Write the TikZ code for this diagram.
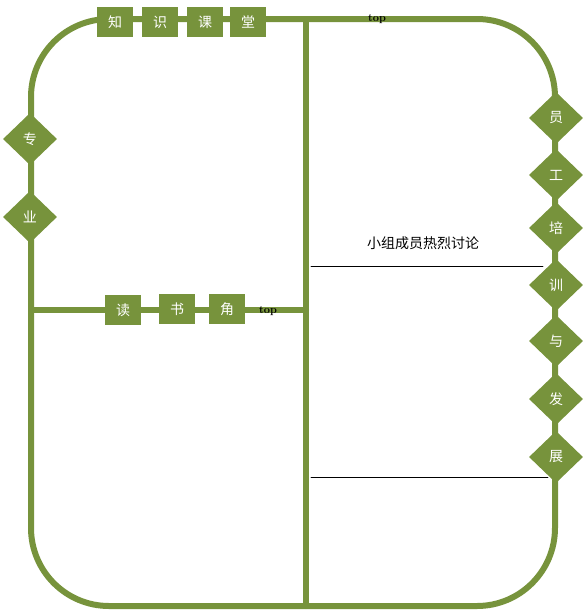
\documentclass[tikz,border=0pt]{standalone}
\usepackage{fontspec}
\newfontfamily\cjk{Noto Sans CJK SC}
\usetikzlibrary{shapes.geometric}
\definecolor{olive}{RGB}{119,147,60}
\tikzset{
	frame/.style={draw=olive, line width=6pt},
	tag/.style={fill=olive, text=white, minimum width=36pt, minimum height=30pt, inner sep=0pt, font=\cjk\fontsize{14}{14}\selectfont},
	rhomb/.style={diamond, aspect=1, fill=olive, text=white, minimum width=54pt, minimum height=52pt, inner sep=0pt, font=\cjk\fontsize{14}{14}\selectfont},
	toplbl/.style={font=\bfseries\fontsize{11}{11}\selectfont, inner sep=0pt},
}

\begin{document}
\begin{tikzpicture}[x=1pt, y=-1pt, line cap=round, line join=round]
	\useasboundingbox (0,0) rectangle (588,611);
	\coordinate (midtop) at (306,19);
	\coordinate (midbot) at (306,606);
	\coordinate (leftmid) at (31,310);
	\coordinate (midmid) at (306,310);
	\draw[frame, rounded corners=78pt] (31,19) rectangle (555,606);
	\draw[frame] (midtop) -- (midbot);
	\draw[frame] (leftmid) -- (midmid);
	% top boxes
	\node[tag] (zhi) at (115,22) {知};
	\node[tag] (shi) at (160,22) {识};
	\node[tag] (ke) at (205,22) {课};
	\node[tag] (tang) at (248,22) {堂};
	\node[toplbl] (top1) at (377,19) {top};
	% left diamonds
	\node[rhomb] (zhuan) at (30,139) {专};
	\node[rhomb] (ye) at (30,217) {业};
	% middle boxes
	\node[tag] (du) at (123,310) {读};
	\node[tag] (shu) at (177,309) {书};
	\node[tag] (jiao) at (227,309) {角};
	\node[toplbl] (top2) at (268,311) {top};
	% right diamonds
	\node[rhomb] (yuan) at (556,118) {员};
	\node[rhomb] (gong) at (556,175) {工};
	\node[rhomb] (pei) at (556,228) {培};
	\node[rhomb] (xun) at (556,285) {训};
	\node[rhomb] (yu) at (556,341) {与};
	\node[rhomb] (fa) at (556,399) {发};
	\node[rhomb] (zhan) at (556,457) {展};
	% discussion
	\node[font=\cjk\fontsize{14}{14}\selectfont, inner sep=0pt] (talk) at (423,243) {小组成员热烈讨论};
	\coordinate (l1a) at (311,266);
	\coordinate (l1b) at (543,266);
	\coordinate (l2a) at (311,477);
	\coordinate (l2b) at (548,477);
	\draw[line width=0.8pt] (l1a) -- (l1b);
	\draw[line width=0.8pt] (l2a) -- (l2b);
\end{tikzpicture}
\end{document}
